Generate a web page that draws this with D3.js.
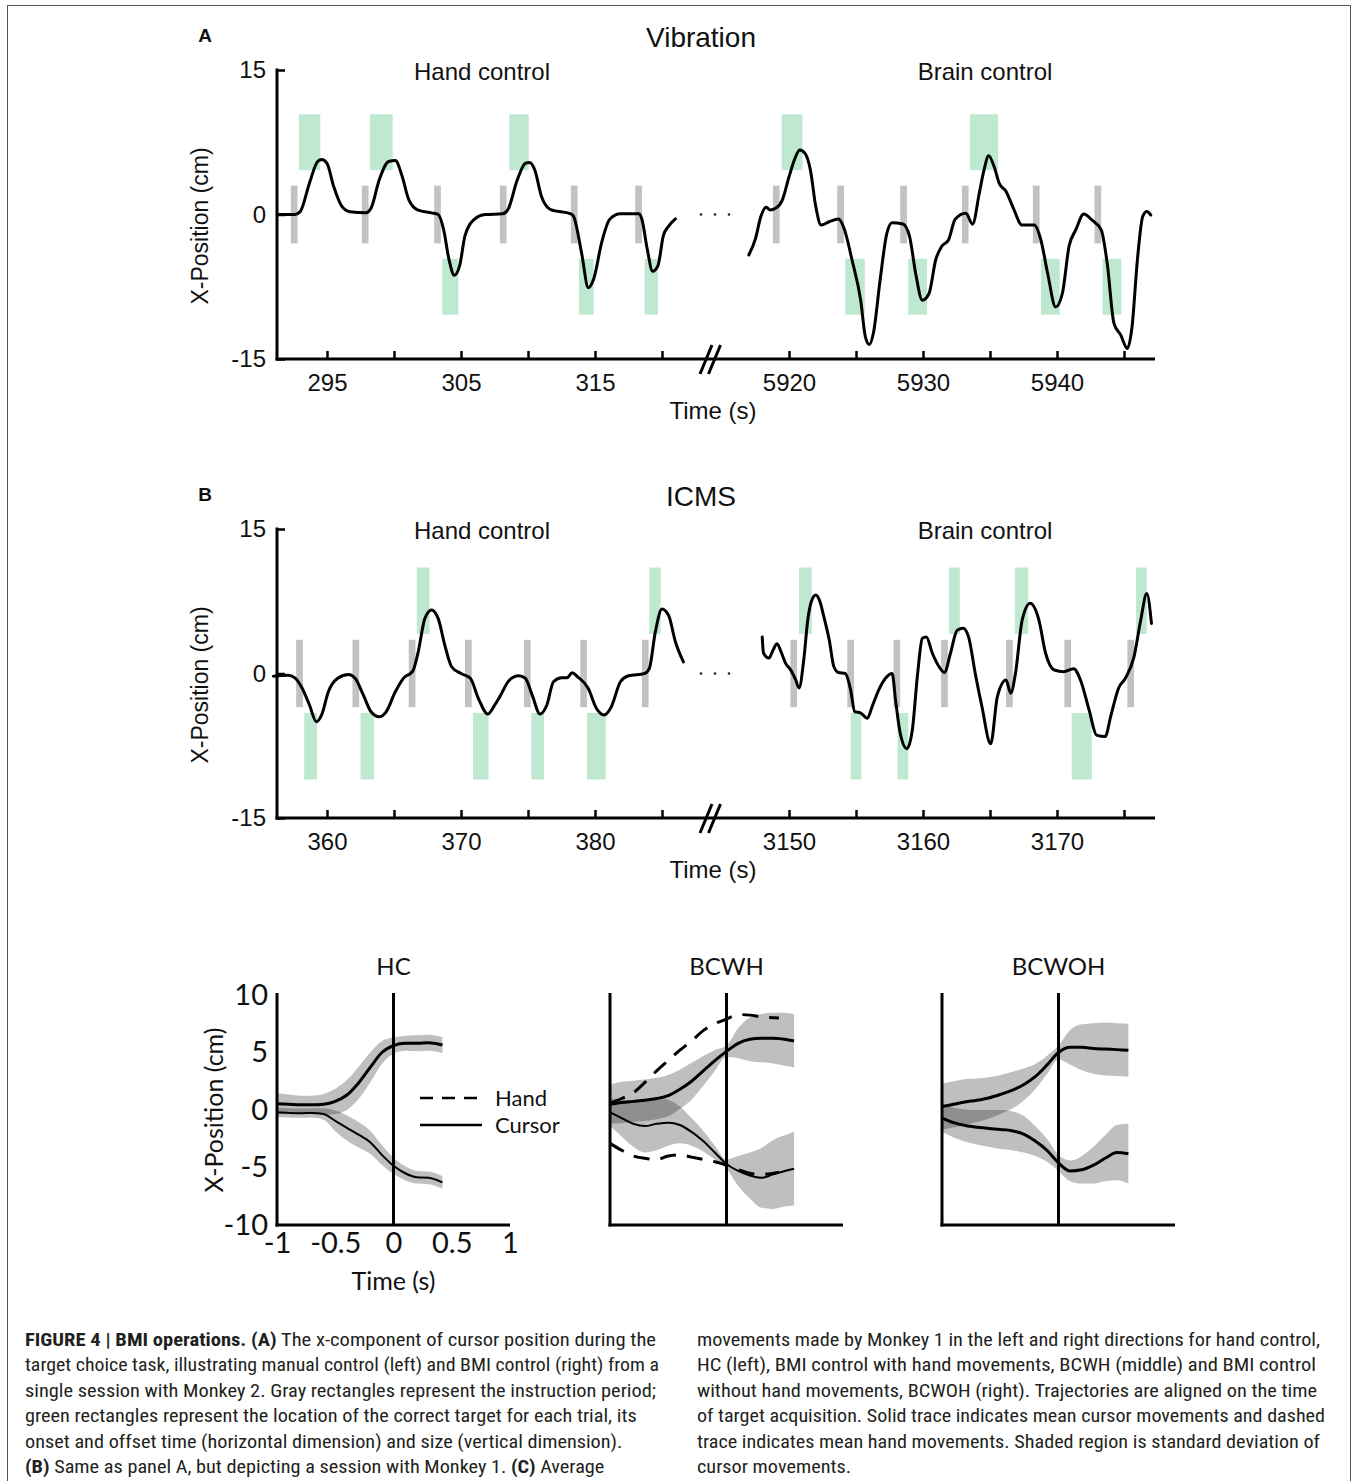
<!DOCTYPE html>
<html>
<head>
<meta charset="utf-8">
<script src="https://cdn.jsdelivr.net/npm/d3@7"></script>
<style>
  body { margin: 0; background: #fff; }
  svg { display: block; }
</style>
</head>
<body>
<svg id="fig"></svg>
<script>
let svgWidth = 1357, svgHeight = 1481
let svg = d3.select('#fig').attr('width', svgWidth).attr('height', svgHeight)

// ---------- panel A (vibration, monkey 2) ----------
const aLeftTicks = [295, 300, 305, 310, 315, 320]
const aRightTicks = [5920, 5925, 5930, 5935, 5940, 5945]
const aCueBand = [-3, 3]
const aTargetBand = [4.6, 10.4]
const aHandCue = [292.3, 297.6, 303.0, 307.9, 313.2, 318.0]
const aBrainCue = [5918.8, 5923.6, 5928.3, 5932.9, 5938.2, 5942.8]
// [onset, offset, side]
const aHandTarget = [[292.9, 294.5, 1], [298.2, 299.9, 1], [303.6, 304.8, -1], [308.6, 310.05, 1], [313.8, 314.9, -1], [318.7, 319.7, -1]]
const aBrainTarget = [[5919.45, 5921.0, 1], [5924.2, 5925.65, -1], [5928.9, 5930.3, -1], [5933.5, 5935.6, 1], [5938.8, 5940.2, -1], [5943.4, 5944.8, -1]]
const aHandTrace = [[291.3,0],[292.6,0],[293.0,0.3],[293.7,3.3],[294.3,5.5],[294.6,5.7],[295.0,5.3],[295.5,2.9],[296.1,0.86],[296.7,0.28],[297.9,0.17],[298.3,0.7],[298.9,3.6],[299.6,5.5],[300.1,5.6],[300.6,4.0],[301.1,1.55],[301.8,0.45],[302.8,0.17],[303.3,0],[303.7,-1.55],[304.1,-4.65],[304.5,-6.3],[304.9,-5.3],[305.3,-2.2],[306.0,-0.5],[306.8,0],[308.1,0.07],[308.5,0.5],[309.2,3.6],[309.8,5.3],[310.1,5.4],[310.5,4.65],[311.0,1.9],[311.7,0.5],[313.2,0.07],[313.4,-0.17],[314.0,-4.0],[314.5,-7.6],[314.9,-6.7],[315.5,-2.9],[316.1,-0.5],[316.9,0.07],[318.3,0.07],[318.5,-0.5],[318.9,-3.6],[319.3,-5.9],[319.7,-5.3],[320.1,-2.2],[320.5,-1.2],[321.0,-0.45]]
const aBrainTrace = [[5917.0,-4.2],[5917.5,-2.5],[5917.9,-0.2],[5918.3,0.75],[5918.6,0.47],[5919.0,0.64],[5919.5,1.5],[5920.0,3.9],[5920.4,5.66],[5920.8,6.7],[5921.2,6.35],[5921.6,4.6],[5922.0,0.8],[5922.4,-1.1],[5923.0,-0.75],[5923.7,-0.47],[5924.1,-1.4],[5924.7,-4.7],[5925.35,-8.9],[5925.7,-12.7],[5926.0,-13.5],[5926.3,-12.3],[5926.8,-6.8],[5927.3,-1.95],[5927.7,-0.85],[5928.5,-0.99],[5929.0,-2.3],[5929.45,-6.1],[5929.95,-8.9],[5930.45,-8.2],[5930.95,-4.7],[5931.4,-3.3],[5931.9,-2.65],[5932.4,-0.5],[5933.2,0.12],[5933.7,-1.0],[5934.2,2.2],[5934.55,4.6],[5934.9,6.1],[5935.3,5.0],[5935.7,3.2],[5936.2,2.4],[5936.7,0.8],[5937.4,-1.1],[5938.3,-1.1],[5938.8,-2.65],[5939.3,-6.1],[5939.9,-9.6],[5940.4,-8.2],[5940.9,-3.3],[5941.4,-1.6],[5942.0,0.05],[5942.6,-0.57],[5943.3,-1.6],[5943.75,-5.1],[5944.25,-11.3],[5944.75,-12.5],[5945.25,-13.9],[5945.6,-11.65],[5946.0,-4.7],[5946.4,-0.2],[5946.7,0.3],[5947.0,-0.05]]

// ---------- panel B (ICMS, monkey 1) ----------
const bLeftTicks = [360, 365, 370, 375, 380, 385]
const bRightTicks = [3150, 3155, 3160, 3165, 3170, 3175]
const bCueBand = [-3.5, 3.5]
const bTargetBand = [4.1, 11.0]
const bHandCue = [357.7, 361.9, 366.1, 370.3, 374.7, 378.9, 383.5]
const bBrainCue = [3150.1, 3154.35, 3157.8, 3161.35, 3166.2, 3170.55, 3175.25]
const bHandTarget = [[358.3, 359.25, -1], [362.5, 363.5, -1], [366.7, 367.65, 1], [370.9, 372.05, -1], [375.25, 376.2, -1], [379.4, 380.8, -1], [384.05, 384.9, 1]]
const bBrainTarget = [[3150.75, 3151.7, 1], [3154.6, 3155.4, -1], [3158.1, 3158.9, -1], [3161.95, 3162.75, 1], [3166.85, 3167.85, 1], [3171.1, 3172.6, -1], [3175.9, 3176.7, 1]]
const bHandTrace = [[356.0,-0.28],[357.1,-0.17],[357.6,-0.45],[358.1,-1.4],[358.7,-3.3],[359.2,-5.0],[359.6,-4.3],[360.1,-1.9],[360.8,-0.5],[361.6,-0.1],[362.1,-0.5],[362.7,-2.2],[363.3,-4.0],[363.9,-4.5],[364.4,-4.0],[365.1,-1.9],[365.7,-0.5],[366.4,0.24],[366.8,2.2],[367.3,5.7],[367.8,6.6],[368.3,5.7],[368.8,2.9],[369.3,0.7],[370.0,0],[370.7,-0.5],[371.3,-2.6],[372.0,-4.2],[372.5,-3.3],[372.9,-2.4],[373.6,-0.7],[374.3,-0.24],[374.8,-0.5],[375.3,-2.2],[375.9,-4.2],[376.4,-3.3],[376.9,-0.86],[377.5,-0.45],[377.9,-0.45],[378.3,0.07],[378.7,-0.34],[379.5,-1.55],[380.1,-3.6],[380.7,-4.3],[381.2,-3.5],[381.9,-0.86],[382.5,-0.24],[383.7,0],[384.05,0.5],[384.5,4.3],[385.0,6.7],[385.5,6.0],[386.0,3.3],[386.6,1.2]]
const bBrainTrace = [[3148.0,3.8],[3148.1,2.1],[3148.5,1.6],[3148.8,2.4],[3149.1,3.1],[3149.45,2.1],[3149.75,1.05],[3150.1,0.43],[3150.5,-0.67],[3150.75,-1.5],[3151.1,1.4],[3151.4,5.55],[3151.7,7.6],[3152.0,8.15],[3152.3,7.5],[3152.6,5.9],[3153.0,3.5],[3153.35,0.7],[3153.7,0.1],[3154.2,0],[3154.6,-1.7],[3154.9,-3.95],[3155.35,-4.1],[3155.85,-4.65],[3156.2,-3.45],[3156.7,-1.7],[3157.2,-0.5],[3157.7,0],[3157.95,-2.75],[3158.3,-6.2],[3158.8,-7.8],[3159.2,-5.9],[3159.6,0],[3159.95,3.65],[3160.25,3.8],[3160.7,2.1],[3161.2,0.7],[3161.6,0.1],[3162.05,2.1],[3162.55,4.5],[3163.0,4.7],[3163.4,3.8],[3163.9,0],[3164.4,-3.45],[3165.05,-7.3],[3165.55,-2.4],[3166.2,-0.67],[3166.55,-2.05],[3166.9,0],[3167.4,5.55],[3168.0,7.3],[3168.65,5.55],[3169.15,2.1],[3169.8,0.36],[3170.5,0.19],[3171.25,0.5],[3171.75,-0.67],[3172.4,-3.8],[3172.95,-6.4],[3173.6,-6.55],[3174.0,-4.5],[3174.6,-1.5],[3175.1,-0.5],[3175.75,1.75],[3176.25,5.55],[3176.7,8.3],[3177.05,5.2]]

// ---------- panel C (average trajectories, monkey 1) ----------
const cTimeTicks = [-1, -0.5, 0, 0.5, 1]
const cPosTicks = [-10, -5, 0, 5, 10]
const cLegend = ['Hand', 'Cursor']
const hcTime = [-1, -0.9, -0.8, -0.7, -0.6, -0.5, -0.4, -0.3, -0.2, -0.1, 0, 0.1, 0.2, 0.3, 0.42]
const hcRightMean = [0.55, 0.5, 0.45, 0.45, 0.5, 0.75, 1.3, 2.35, 3.7, 5.0, 5.6, 5.8, 5.8, 5.85, 5.65]
const hcRightSd = [0.9, 0.85, 0.8, 0.8, 0.9, 1.1, 1.3, 1.4, 1.3, 1.0, 0.7, 0.65, 0.7, 0.7, 0.7]
const hcLeftMean = [-0.2, -0.25, -0.28, -0.25, -0.35, -0.95, -1.55, -2.15, -2.8, -3.9, -4.85, -5.5, -5.85, -5.9, -6.3]
const hcLeftSd = [0.4, 0.4, 0.4, 0.4, 0.5, 0.9, 1.1, 1.1, 1.0, 0.85, 0.7, 0.6, 0.55, 0.55, 0.55]

const bcwhTime = [-1, -0.9, -0.8, -0.7, -0.6, -0.5, -0.4, -0.3, -0.2, -0.1, 0, 0.1, 0.2, 0.3, 0.4, 0.5, 0.58]
const bcwhRightMean = [0.5, 0.65, 0.75, 0.85, 1.0, 1.25, 1.8, 2.5, 3.4, 4.3, 5.1, 5.8, 6.15, 6.25, 6.25, 6.15, 6.0]
const bcwhRightSd = [1.7, 1.8, 1.8, 1.8, 1.8, 1.8, 1.7, 1.6, 1.3, 0.9, 0.5, 1.3, 1.9, 2.1, 2.2, 2.3, 2.3]
const bcwhLeftMean = [-0.2, -0.7, -1.2, -1.4, -1.2, -1.1, -1.3, -1.9, -2.7, -3.7, -4.7, -5.3, -5.7, -5.9, -5.6, -5.3, -5.1]
const bcwhLeftSd = [1.2, 1.6, 2.0, 2.3, 2.3, 2.0, 1.6, 1.2, 0.9, 0.6, 0.4, 1.3, 2.0, 2.6, 3.0, 3.1, 3.2]
const bcwhHandTime = [-1, -0.9, -0.8, -0.7, -0.6, -0.5, -0.4, -0.3, -0.2, -0.1, 0, 0.1, 0.2, 0.3, 0.45]
const bcwhHandRight = [0.6, 1.0, 1.5, 2.4, 3.4, 4.3, 5.2, 6.0, 6.9, 7.5, 7.9, 8.3, 8.25, 8.1, 8.0]
const bcwhHandLeft = [-2.9, -3.5, -4.0, -4.2, -4.3, -4.0, -3.9, -4.1, -4.3, -4.5, -4.8, -5.2, -5.5, -5.6, -5.4]

const bcwohTime = [-1, -0.9, -0.8, -0.7, -0.6, -0.5, -0.4, -0.3, -0.2, -0.1, 0, 0.1, 0.2, 0.3, 0.4, 0.5, 0.6]
const bcwohRightMean = [0.3, 0.5, 0.7, 0.85, 1.05, 1.35, 1.7, 2.2, 2.9, 3.9, 5.0, 5.45, 5.45, 5.35, 5.3, 5.25, 5.2]
const bcwohRightSd = [2.0, 2.0, 2.0, 1.9, 1.8, 1.7, 1.6, 1.4, 1.1, 0.8, 0.6, 1.5, 2.0, 2.2, 2.3, 2.3, 2.3]
const bcwohLeftMean = [-0.7, -1.1, -1.35, -1.5, -1.6, -1.7, -1.8, -2.1, -2.7, -3.5, -4.6, -5.3, -5.2, -4.8, -4.2, -3.7, -3.8]
const bcwohLeftSd = [1.2, 1.3, 1.4, 1.5, 1.6, 1.7, 1.7, 1.6, 1.3, 1.0, 0.7, 0.9, 1.2, 1.6, 2.0, 2.4, 2.6]

const armFont = '"Liberation Sans", Arial, sans-serif'
const cFont = 'Lato, "Open Sans", sans-serif'
const greenFill = '#bfe8d0', cueFill = '#c2c2c2'

// frame round the figure
svg.append('rect').attr('x', 7.5).attr('y', 5.5).attr('width', 1343).attr('height', 1600)
  .attr('fill', 'none').attr('stroke', '#555').attr('stroke-width', 1)

function addText(x, y, txt, size, opts = {}) {
  return svg.append('text').attr('x', x).attr('y', y).text(txt)
    .attr('font-family', opts.font || armFont).attr('font-size', size)
    .attr('font-weight', opts.bold ? 'bold' : 'normal')
    .attr('text-anchor', opts.anchor || 'middle')
    .attr('dominant-baseline', 'central').attr('fill', '#111')
}

// one session panel: hand control on the left, brain control on the right of the axis break
function drawSession(top, p) {
  let bottom = top + 289
  let y = d3.scaleLinear().domain([-15, 15]).range([bottom, top])
  let xL = d3.scaleLinear().domain([p.leftTicks[0], p.leftTicks[0] + 10]).range([327, 461])
  let xR = d3.scaleLinear().domain([p.rightTicks[0], p.rightTicks[0] + 10]).range([789, 923])
  let g = svg.append('g')
  let line = d3.line().curve(d3.curveMonotoneX)

  let parts = [[xL, p.handCue, p.handTarget, p.handTrace], [xR, p.brainCue, p.brainTarget, p.brainTrace]]
  parts.forEach(([x, cues, targets, trace]) => {
    g.selectAll(null).data(cues).enter().append('rect')
      .attr('x', d => x(d)).attr('width', d => x(d + 0.5) - x(d))
      .attr('y', y(p.cueBand[1])).attr('height', y(p.cueBand[0]) - y(p.cueBand[1]))
      .attr('fill', cueFill)
    g.selectAll(null).data(targets).enter().append('rect')
      .attr('x', d => x(d[0])).attr('width', d => x(d[1]) - x(d[0]))
      .attr('y', d => d[2] > 0 ? y(p.targetBand[1]) : y(-p.targetBand[0]))
      .attr('height', y(p.targetBand[0]) - y(p.targetBand[1]))
      .attr('fill', greenFill)
    g.append('path').attr('d', line.x(d => x(d[0])).y(d => y(d[1]))(trace))
      .attr('fill', 'none').attr('stroke', '#000').attr('stroke-width', 3)
      .attr('stroke-linejoin', 'round').attr('stroke-linecap', 'round')
  })

  // continuation dots
  g.selectAll(null).data([701, 715, 729]).enter().append('circle')
    .attr('cx', d => d).attr('cy', y(0)).attr('r', 1.3).attr('fill', '#222')

  // axes
  let yAxis = g.append('g').attr('transform', `translate(277,0)`)
    .call(d3.axisLeft(y).tickValues([-15, 0, 15]).tickFormat(d => String(d)).tickSizeInner(-8).tickSizeOuter(0).tickPadding(11))
  yAxis.select('.domain').remove()
  ;[[xL, p.leftTicks], [xR, p.rightTicks]].forEach(([x, ticks]) => {
    let ax = g.append('g').attr('transform', `translate(0,${bottom})`)
      .call(d3.axisBottom(x).tickValues(ticks).tickFormat(d => ticks.indexOf(d) % 2 ? '' : String(d)).tickSizeInner(-8).tickSizeOuter(0).tickPadding(15))
    ax.select('.domain').remove()
  })
  g.selectAll('.tick line').attr('stroke', '#000').attr('stroke-width', 2.5)
  g.selectAll('.tick text').attr('font-family', armFont).attr('font-size', 24).attr('fill', '#111')
  g.append('line').attr('x1', 277).attr('x2', 277).attr('y1', top - 1.5).attr('y2', bottom + 1.5)
    .attr('stroke', '#000').attr('stroke-width', 3)
  g.append('line').attr('x1', 275.5).attr('x2', 1155).attr('y1', bottom).attr('y2', bottom)
    .attr('stroke', '#000').attr('stroke-width', 3)
  // axis break
  g.selectAll(null).data([0, 8.5]).enter().append('line')
    .attr('x1', d => 700 + d).attr('y1', bottom + 15).attr('x2', d => 712 + d).attr('y2', bottom - 14)
    .attr('stroke', '#000').attr('stroke-width', 3)

  addText(205, top - 35, p.letter, 19, { bold: true })
  addText(701, top - 33, p.title, 28)
  addText(482, top + 1, 'Hand control', 24)
  addText(985, top + 1, 'Brain control', 24)
  addText(713, bottom + 51, 'Time (s)', 24)
  addText(200, top + 156, 'X-Position (cm)', 23).attr('transform', `rotate(-90,200,${top + 156})`)
}

drawSession(70, {
  letter: 'A', title: 'Vibration', leftTicks: aLeftTicks, rightTicks: aRightTicks,
  cueBand: aCueBand, targetBand: aTargetBand, handCue: aHandCue, brainCue: aBrainCue,
  handTarget: aHandTarget, brainTarget: aBrainTarget, handTrace: aHandTrace, brainTrace: aBrainTrace
})
drawSession(529, {
  letter: 'B', title: 'ICMS', leftTicks: bLeftTicks, rightTicks: bRightTicks,
  cueBand: bCueBand, targetBand: bTargetBand, handCue: bHandCue, brainCue: bBrainCue,
  handTarget: bHandTarget, brainTarget: bBrainTarget, handTrace: bHandTrace, brainTrace: bBrainTrace
})

// ---------- panel C ----------
let yC = d3.scaleLinear().domain([-10, 10]).range([1225, 995])

function drawAverage(x0, title, time, series, hand, labels) {
  let x = d3.scaleLinear().domain([-1, 1]).range([x0, x0 + 233])
  let g = svg.append('g')
  let area = d3.area().curve(d3.curveMonotoneX).x((d, i) => x(time[i]))
  series.forEach(s => {
    g.append('path').datum(s.mean)
      .attr('d', area.y0((d, i) => yC(d - s.sd[i])).y1((d, i) => yC(d + s.sd[i])))
      .attr('fill', '#000').attr('fill-opacity', 0.25)
  })
  // axes and alignment line
  g.append('line').attr('x1', x0).attr('x2', x0).attr('y1', 993).attr('y2', 1226.5).attr('stroke', '#000').attr('stroke-width', 3)
  g.append('line').attr('x1', x0 - 1.5).attr('x2', x(1)).attr('y1', 1225).attr('y2', 1225).attr('stroke', '#000').attr('stroke-width', 3)
  g.append('line').attr('x1', x(0)).attr('x2', x(0)).attr('y1', 993).attr('y2', 1225).attr('stroke', '#000').attr('stroke-width', 3)

  let line = d3.line().curve(d3.curveMonotoneX)
  series.forEach(s => {
    g.append('path').attr('d', line.x((d, i) => x(time[i])).y(d => yC(d))(s.mean))
      .attr('fill', 'none').attr('stroke', '#000').attr('stroke-width', s.w)
  })
  if (hand) hand.values.forEach(v => {
    g.append('path').attr('d', line.x((d, i) => x(hand.time[i])).y(d => yC(d))(v))
      .attr('fill', 'none').attr('stroke', '#000').attr('stroke-width', 3).attr('stroke-dasharray', '16,11')
  })

  addText(x(0), 965, title, 24, { font: cFont })
  if (labels) {
    let ya = g.append('g').attr('transform', `translate(${x0},0)`)
      .call(d3.axisLeft(yC).tickValues(cPosTicks).tickFormat(d => String(d)).tickSize(0).tickPadding(9))
    let xa = g.append('g').attr('transform', 'translate(0,1225)')
      .call(d3.axisBottom(x).tickValues(cTimeTicks).tickFormat(d => String(d)).tickSize(0).tickPadding(7))
    ya.select('.domain').remove(); xa.select('.domain').remove()
    g.selectAll('.tick text').attr('font-family', cFont).attr('font-size', 29).attr('fill', '#111')
    addText(x(0), 1280, 'Time (s)', 25, { font: cFont })
    addText(213, 1110, 'X-Position (cm)', 25, { font: cFont }).attr('transform', 'rotate(-90,213,1110)')
  }
}

drawAverage(277, 'HC', hcTime, [
  { mean: hcRightMean, sd: hcRightSd, w: 3 }, { mean: hcLeftMean, sd: hcLeftSd, w: 2 }
], null, true)
drawAverage(610, 'BCWH', bcwhTime, [
  { mean: bcwhRightMean, sd: bcwhRightSd, w: 3 }, { mean: bcwhLeftMean, sd: bcwhLeftSd, w: 2 }
], { time: bcwhHandTime, values: [bcwhHandRight, bcwhHandLeft] }, false)
drawAverage(942, 'BCWOH', bcwohTime, [
  { mean: bcwohRightMean, sd: bcwohRightSd, w: 3 }, { mean: bcwohLeftMean, sd: bcwohLeftSd, w: 3 }
], null, false)

// legend: dashed = hand, solid = cursor
svg.append('line').attr('x1', 420).attr('x2', 482).attr('y1', 1098).attr('y2', 1098)
  .attr('stroke', '#000').attr('stroke-width', 2.5).attr('stroke-dasharray', '13,9')
svg.append('line').attr('x1', 420).attr('x2', 482).attr('y1', 1125).attr('y2', 1125)
  .attr('stroke', '#000').attr('stroke-width', 2.5)
svg.selectAll(null).data(cLegend).enter().append('text')
  .attr('x', 495).attr('y', (d, i) => 1106 + i * 27).text(d => d)
  .attr('font-family', cFont).attr('font-size', 22).attr('fill', '#111')

// ---------- caption ----------
const captionLeft = [
  [['FIGURE 4 | BMI operations. (A)', 1], [' The x-component of cursor position during the', 0]],
  [['target choice task, illustrating manual control (left) and BMI control (right) from a', 0]],
  [['single session with Monkey 2. Gray rectangles represent the instruction period;', 0]],
  [['green rectangles represent the location of the correct target for each trial, its', 0]],
  [['onset and offset time (horizontal dimension) and size (vertical dimension).', 0]],
  [['(B)', 1], [' Same as panel A, but depicting a session with Monkey 1. ', 0], ['(C)', 1], [' Average', 0]]
]
const captionRight = [
  [['movements made by Monkey 1 in the left and right directions for hand control,', 0]],
  [['HC (left), BMI control with hand movements, BCWH (middle) and BMI control', 0]],
  [['without hand movements, BCWOH (right). Trajectories are aligned on the time', 0]],
  [['of target acquisition. Solid trace indicates mean cursor movements and dashed', 0]],
  [['trace indicates mean hand movements. Shaded region is standard deviation of', 0]],
  [['cursor movements.', 0]]
]
// measured right ends of the full lines (null: ragged line, scaled like the others)
const captionLeftEnd = [656, 659, 656, null, null, null]
const captionRightEnd = [1320, 1316, 1317, 1325, 1320, null]

let capFont = '"Liberation Sans Narrow", "Roboto Condensed", "Liberation Sans", sans-serif'
let capLines = []
;[[captionLeft, captionLeftEnd, 25], [captionRight, captionRightEnd, 697]].forEach(([lines, ends, x0]) => {
  lines.forEach((segs, i) => {
    let t = svg.append('text').attr('x', x0).attr('y', 1346 + i * 25.4)
      .attr('font-family', capFont).attr('font-size', 17.5).attr('fill', '#231f20')
    segs.forEach(s => t.append('tspan').text(s[0]).attr('font-weight', s[1] ? 'bold' : 'normal'))
    capLines.push({ t, x0, end: ends[i], natural: t.node().getComputedTextLength() })
  })
})
let known = capLines.filter(c => c.end)
let squeeze = d3.mean(known, c => (c.end - c.x0) / c.natural)
capLines.forEach(c => {
  let len = c.end ? c.end - c.x0 : c.natural * squeeze
  c.t.attr('textLength', len).attr('lengthAdjust', 'spacingAndGlyphs')
})
</script>
</body>
</html>
